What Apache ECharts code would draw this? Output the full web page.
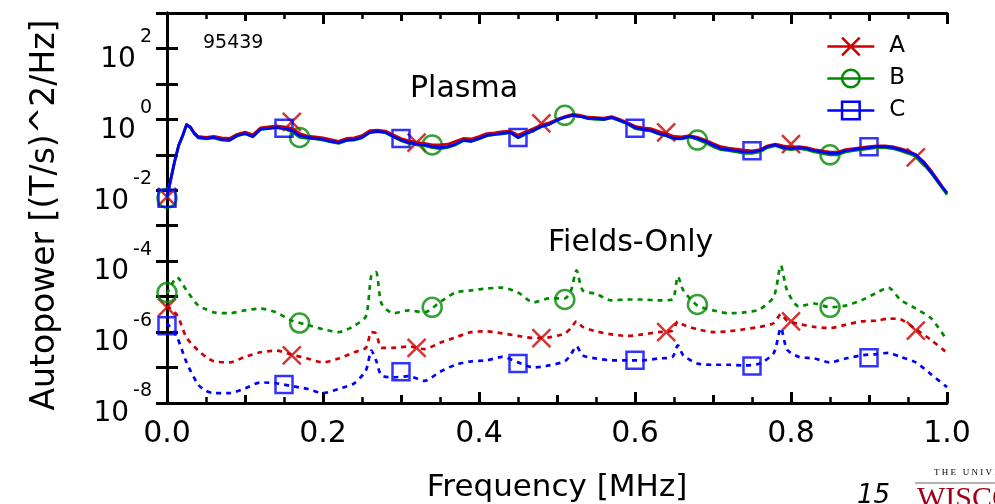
<!DOCTYPE html>
<html><head><meta charset="utf-8">
<script src="https://cdn.jsdelivr.net/npm/echarts@6/dist/echarts.min.js"></script>
<style>html,body{margin:0;padding:0;background:#fff}#c{width:995px;height:504px}</style>
</head><body><div id="c"></div><script>
// ---------- data ----------
const plasmaFreq = [0,0.005,0.01,0.015,0.02,0.025,0.03,0.035,0.04,
 0.05,0.06,0.07,0.08,0.09,
 0.10,0.11,0.12,0.13,0.14,0.15,0.16,0.17,0.18,0.19,
 0.20,0.21,0.22,0.23,0.24,0.25,0.26,0.27,0.28,0.29,
 0.30,0.31,0.32,0.33,0.34,0.35,0.36,0.37,0.38,0.39,
 0.40,0.41,0.42,0.43,0.44,0.45,0.46,0.47,0.48,0.49,
 0.50,0.51,0.52,0.53,0.54,0.55,0.56,0.57,0.58,0.59,
 0.60,0.61,0.62,0.63,0.64,0.65,0.66,0.67,0.68,0.69,
 0.70,0.71,0.72,0.73,0.74,0.75,0.76,0.77,0.78,0.79,
 0.80,0.81,0.82,0.83,0.84,0.85,0.86,0.87,0.88,0.89,
 0.90,0.91,0.92,0.93,0.94,0.95,0.96,0.97,0.98,0.99,1.00];
const plasmaA = [0.0065,0.02,0.065,0.18,0.34,0.7,0.62,0.42,0.33,
 0.31,0.33,0.30,0.29,0.38,
 0.44,0.37,0.58,0.62,0.66,0.62,0.56,0.40,0.34,0.32,
 0.30,0.27,0.24,0.29,0.30,0.35,0.48,0.50,0.47,0.37,
 0.29,0.25,0.22,0.21,0.19,0.19,0.20,0.24,0.29,0.28,
 0.33,0.40,0.42,0.45,0.47,0.36,0.45,0.55,0.70,0.80,
 1.0,1.2,1.4,1.3,1.15,1.12,1.08,1.2,1.0,0.82,
 0.64,0.58,0.55,0.46,0.40,0.33,0.32,0.35,0.31,0.26,
 0.21,0.17,0.155,0.145,0.135,0.13,0.14,0.18,0.20,0.18,
 0.165,0.17,0.16,0.14,0.13,0.12,0.12,0.14,0.15,0.16,
 0.17,0.18,0.18,0.17,0.15,0.13,0.10,0.065,0.035,0.017,0.008];
const plasmaB = [0.006,0.021,0.068,0.18,0.33,0.68,0.58,0.39,0.30,
 0.28,0.30,0.26,0.25,0.34,
 0.39,0.32,0.52,0.55,0.58,0.54,0.45,0.31,0.29,0.28,
 0.26,0.23,0.21,0.25,0.26,0.30,0.42,0.45,0.42,0.32,
 0.25,0.21,0.19,0.18,0.16,0.15,0.16,0.19,0.25,0.24,
 0.28,0.34,0.37,0.39,0.42,0.30,0.38,0.48,0.62,0.72,
 0.95,1.15,1.3,1.2,1.05,1.0,0.98,1.1,0.92,0.75,
 0.55,0.50,0.47,0.39,0.34,0.28,0.28,0.32,0.27,0.22,
 0.17,0.14,0.13,0.12,0.11,0.11,0.12,0.16,0.18,0.15,
 0.14,0.15,0.14,0.12,0.11,0.10,0.10,0.12,0.13,0.14,
 0.15,0.16,0.16,0.15,0.13,0.11,0.09,0.055,0.03,0.015,0.0075];
const plasmaC = [0.0063,0.022,0.07,0.19,0.35,0.72,0.6,0.40,0.31,
 0.29,0.31,0.27,0.26,0.35,
 0.40,0.33,0.53,0.56,0.59,0.56,0.49,0.35,0.31,0.29,
 0.27,0.24,0.22,0.26,0.27,0.31,0.43,0.46,0.43,0.33,
 0.26,0.22,0.20,0.19,0.17,0.16,0.17,0.20,0.26,0.24,
 0.29,0.35,0.38,0.40,0.43,0.31,0.40,0.49,0.63,0.72,
 0.94,1.14,1.3,1.2,1.07,1.07,1.0,1.14,0.94,0.77,
 0.59,0.52,0.49,0.40,0.35,0.29,0.29,0.33,0.29,0.24,
 0.19,0.15,0.14,0.13,0.12,0.12,0.13,0.17,0.19,0.16,
 0.15,0.16,0.15,0.13,0.12,0.11,0.11,0.13,0.14,0.15,
 0.16,0.17,0.17,0.16,0.14,0.12,0.10,0.06,0.032,0.016,0.0085];

const fieldFreq = [0,0.013,0.025,0.04,0.05,0.06,0.08,0.10,0.12,0.14,
 0.16,0.18,0.20,0.22,0.24,0.255,0.262,0.268,0.275,0.29,
 0.31,0.33,0.35,0.37,0.39,0.41,0.43,0.45,0.47,0.49,
 0.51,0.518,0.525,0.533,0.55,0.57,0.59,0.61,0.63,0.648,
 0.655,0.662,0.68,0.70,0.72,0.74,0.76,0.778,0.787,0.795,
 0.81,0.83,0.85,0.87,0.89,0.91,0.925,0.94,0.96,0.98,1.0];
const fieldsA = [5.6e-6,3.0e-6,7.0e-7,3.0e-7,2.0e-7,1.5e-7,1.4e-7,2.0e-7,2.7e-7,3.0e-7,
 2.3e-7,1.8e-7,1.4e-7,1.8e-7,2.7e-7,3.6e-7,1.0e-6,9.2e-7,3.6e-7,3.6e-7,
 3.9e-7,3.3e-7,5.0e-7,7.1e-7,1.0e-6,1.05e-6,9.2e-7,7.8e-7,6.8e-7,7.1e-7,
 9.2e-7,1.3e-6,2.0e-6,1.4e-6,1.05e-6,8.6e-7,7.8e-7,8.6e-7,1.0e-6,1.1e-6,
 2.0e-6,1.6e-6,1.2e-6,1.0e-6,1.05e-6,1.2e-6,1.4e-6,1.8e-6,3.2e-6,2.1e-6,
 1.7e-6,1.4e-6,1.3e-6,1.6e-6,2.0e-6,2.1e-6,2.4e-6,2.3e-6,1.2e-6,5.9e-7,2.6e-7];
const fieldsB = [1.2e-5,3.5e-5,1.5e-5,5.6e-6,4.4e-6,3.6e-6,3.4e-6,4.1e-6,4.6e-6,3.6e-6,
 2.1e-6,1.6e-6,1.2e-6,1.0e-6,1.5e-6,2.8e-6,4.0e-5,4.9e-5,6.4e-6,3.4e-6,
 4.1e-6,3.6e-6,7.0e-6,1.3e-5,1.5e-5,1.7e-5,1.8e-5,1.3e-5,6.9e-6,8.9e-6,
 8.9e-6,1.5e-5,5.5e-5,1.5e-5,1.2e-5,7.8e-6,8.3e-6,8.3e-6,7.8e-6,8.3e-6,
 3.7e-5,1.5e-5,5.6e-6,4.1e-6,3.4e-6,3.6e-6,4.4e-6,1.0e-5,7.5e-5,1.5e-5,
 5.3e-6,6.4e-6,5.0e-6,5.6e-6,7.8e-6,1.3e-5,1.8e-5,8.3e-6,4.6e-6,2.4e-6,5.9e-7];
const fieldsC = [1.8e-6,7.1e-7,1.4e-7,3.3e-8,2.2e-8,1.9e-8,1.9e-8,2.6e-8,3.8e-8,3.6e-8,
 3.0e-8,2.5e-8,1.9e-8,2.5e-8,3.6e-8,8.3e-8,3.0e-7,1.6e-7,6.0e-8,5.3e-8,
 5.7e-8,4.2e-8,7.6e-8,1.2e-7,1.5e-7,1.6e-7,2.0e-7,1.4e-7,1.0e-7,1.15e-7,
 1.5e-7,2.4e-7,4.0e-7,2.2e-7,1.8e-7,1.6e-7,1.6e-7,1.6e-7,1.8e-7,2.0e-7,
 4.2e-7,2.2e-7,1.3e-7,1.2e-7,1.2e-7,1.15e-7,1.3e-7,2.6e-7,1.3e-6,3.2e-7,
 2.0e-7,1.8e-7,1.4e-7,1.8e-7,2.2e-7,2.4e-7,2.6e-7,2.0e-7,1.4e-7,6.3e-8,2.8e-8];

// marker positions
const markFreqA = [0,0.16,0.32,0.48,0.64,0.80,0.96];
const markFreqB = [0,0.17,0.34,0.51,0.68,0.85];
const markFreqC = [0,0.15,0.30,0.45,0.60,0.75,0.90];
const plasmaMarkA = [0.0065,0.85,0.22,0.77,0.43,0.20,0.085];
const plasmaMarkB = [0.006,0.31,0.19,1.3,0.26,0.10];
const plasmaMarkC = [0.006,0.56,0.29,0.31,0.56,0.13,0.17];
const fieldsMarkA = [5.0e-6,2.2e-7,3.6e-7,6.8e-7,1.0e-6,2.0e-6,1.1e-6];
const fieldsMarkB = [1.3e-5,1.8e-6,5.0e-6,8.3e-6,6.0e-6,5.0e-6];
const fieldsMarkC = [1.5e-6,3.3e-8,7.6e-8,1.3e-7,1.6e-7,1.1e-7,1.9e-7];

const xTickLabels = ['0.0','0.2','0.4','0.6','0.8','1.0'];
const yTickExponents = ['-8','-6','-4','-2','0','2'];
const seriesNames = ['A','B','C'];

// ---------- chart ----------
const RED = '#cc0000', GREEN = '#008a00', BLUE = '#0000ff', BLACK = '#000';
const FONT = 'DejaVu Sans';
const CROSS = 'path://M0,0L1,1M1,0L0,1';
const pairs = (xs, ys) => xs.map((x, i) => [x, ys[i]]);

function lineS(name, color, xs, ys, dotted, symbol) {
  return {
    type: 'line', name, data: pairs(xs, ys), showSymbol: false, symbol, symbolSize: 18,
    smooth: dotted ? 0.25 : false, silent: true, animation: false,
    lineStyle: { color, width: 2.7, type: dotted ? [5, 5] : 'solid', cap: 'butt', join: 'round' },
    itemStyle: { color: 'rgba(0,0,0,0)', borderColor: color, borderWidth: 2.5 },
    emphasis: { disabled: true }
  };
}
function markS(name, color, xs, ys, symbol, size) {
  return {
    type: 'scatter', name, data: pairs(xs, ys), symbol, symbolSize: size, clip: false,
    silent: true, animation: false,
    itemStyle: { color: 'rgba(0,0,0,0)', borderColor: color, borderWidth: 2.5 },
    emphasis: { disabled: true }
  };
}

const axisLineStyle = { show: true, lineStyle: { color: BLACK, width: 3 } };
const xBase = { type: 'value', min: 0, max: 1, splitLine: { show: false }, axisPointer: { show: false } };
const majorTick = { show: true, inside: true, length: 11, lineStyle: { color: BLACK, width: 3 } };
const midTick = { show: true, inside: true, length: 8, lineStyle: { color: BLACK, width: 3 } };
const minorTick = { show: true, splitNumber: 4, length: 6, lineStyle: { color: BLACK, width: 2.5 } };

function yLabel(v) {
  const e = Math.round(Math.log10(v));
  const idx = yTickExponents.indexOf(String(e));
  if (idx < 0) return '';
  return '{b|10}{s|' + yTickExponents[idx] + '}';
}
const yBase = {
  type: 'log', logBase: 10, min: 1e-8, max: 1e3, interval: 1,
  splitLine: { show: false }, minorTick: { show: false },
  axisLine: axisLineStyle,
  axisTick: { show: true, inside: true, length: 11, lineStyle: { color: BLACK, width: 3 } }
};

const chart = echarts.init(document.getElementById('c'));
chart.setOption({
  animation: false,
  backgroundColor: '#fff',
  grid: { left: 167, right: 48, top: 13, bottom: 101, containLabel: false, outerBoundsMode: 'none' },
  xAxis: [
    Object.assign({}, xBase, {
      position: 'bottom', interval: 0.2, axisLine: axisLineStyle, axisTick: majorTick, minorTick: minorTick,
      axisLabel: {
        show: true, margin: 16, fontSize: 30, fontFamily: FONT, color: BLACK,
        formatter: v => xTickLabels[Math.round(v * 5)] ?? ''
      }
    }),
    Object.assign({}, xBase, { position: 'bottom', interval: 0.1, axisLine: { show: false }, axisTick: midTick, axisLabel: { show: false } }),
    Object.assign({}, xBase, { position: 'top', interval: 0.2, axisLine: axisLineStyle, axisTick: majorTick, minorTick: minorTick, axisLabel: { show: false } }),
    Object.assign({}, xBase, { position: 'top', interval: 0.1, axisLine: { show: false }, axisTick: midTick, axisLabel: { show: false } })
  ],
  yAxis: [
    Object.assign({}, yBase, {
      position: 'left',
      axisLabel: {
        show: true, margin: 15, formatter: yLabel, color: BLACK, padding: [4, 0, 0, 0],
        rich: {
          b: { fontSize: 28, fontFamily: FONT, color: BLACK, lineHeight: 46, verticalAlign: 'bottom' },
          s: { fontSize: 19, fontFamily: FONT, color: BLACK, lineHeight: 19, verticalAlign: 'top', padding: [0, 0, 0, 4] }
        }
      }
    }),
    Object.assign({}, yBase, { position: 'right', axisLabel: { show: false } })
  ],
  legend: {
    show: true, orient: 'vertical', left: 826, top: 35, padding: 0, itemWidth: 47, itemHeight: 22, itemGap: 9,
    data: seriesNames, selectedMode: false,
    textStyle: { fontSize: 23, fontFamily: FONT, color: BLACK, padding: [0, 0, 0, 10] },
    itemStyle: { borderWidth: 2.5 }, lineStyle: { width: 2.7 }
  },
  series: [
    lineS('A', RED, plasmaFreq, plasmaA, false, CROSS),
    lineS('B', GREEN, plasmaFreq, plasmaB, false, 'circle'),
    lineS('C', BLUE, plasmaFreq, plasmaC, false, 'rect'),
    lineS('A', RED, fieldFreq, fieldsA, true, CROSS),
    lineS('B', GREEN, fieldFreq, fieldsB, true, 'circle'),
    lineS('C', BLUE, fieldFreq, fieldsC, true, 'rect'),
    markS('A', RED, markFreqA, plasmaMarkA, CROSS, 18),
    markS('B', GREEN, markFreqB, plasmaMarkB, 'circle', 19),
    markS('C', BLUE, markFreqC, plasmaMarkC, 'rect', 17),
    markS('A', RED, markFreqA, fieldsMarkA, CROSS, 18),
    markS('B', GREEN, markFreqB, fieldsMarkB, 'circle', 19),
    markS('C', BLUE, markFreqC, fieldsMarkC, 'rect', 17)
  ],
  graphic: [
    { type: 'text', x: 45, y: 215, rotation: Math.PI / 2, silent: true,
      style: { text: 'Autopower [(T/s)^2/Hz]', fontSize: 33, fontFamily: FONT, fill: BLACK, align: 'center', verticalAlign: 'middle' } },
    { type: 'text', x: 557, y: 488, silent: true,
      style: { text: 'Frequency [MHz]', fontSize: 31, fontFamily: FONT, fill: BLACK, align: 'center', verticalAlign: 'middle' } },
    { type: 'text', x: 203, y: 43, silent: true,
      style: { text: '95439', fontSize: 19, fontFamily: FONT, fill: BLACK, align: 'left', verticalAlign: 'middle' } },
    { type: 'text', x: 410, y: 89, silent: true,
      style: { text: 'Plasma', fontSize: 30, fontFamily: FONT, fill: BLACK, align: 'left', verticalAlign: 'middle' } },
    { type: 'text', x: 548, y: 243, silent: true,
      style: { text: 'Fields-Only', fontSize: 30, fontFamily: FONT, fill: BLACK, align: 'left', verticalAlign: 'middle' } },
    { type: 'text', x: 857, y: 483, silent: true,
      style: { text: '15', fontSize: 26, fontStyle: 'italic', fontFamily: FONT, fill: BLACK, align: 'left', verticalAlign: 'top' } },
    { type: 'text', x: 934, y: 468, silent: true,
      style: { text: 'T H E   U N I V E R S I T Y', fontSize: 9, fontFamily: 'Liberation Serif', fill: BLACK, align: 'left', verticalAlign: 'top' } },
    { type: 'line', silent: true, shape: { x1: 915, y1: 483, x2: 995, y2: 483 }, style: { stroke: '#666', lineWidth: 1 } },
    { type: 'text', x: 917, y: 484, silent: true,
      style: { text: 'WISCONSIN', fontSize: 30, fontFamily: 'Liberation Serif', fill: '#a0001a', align: 'left', verticalAlign: 'top' } }
  ]
});
</script></body></html>
